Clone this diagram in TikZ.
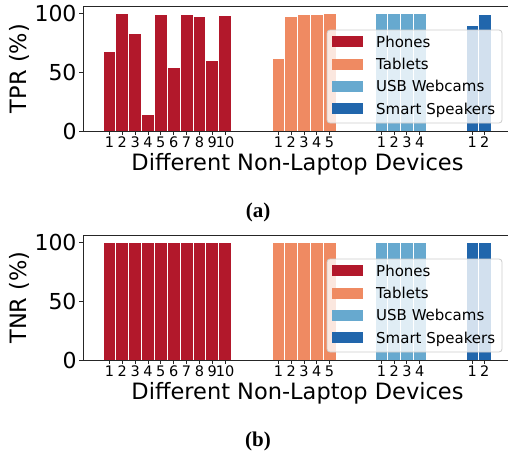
\documentclass[tikz,border=0pt]{standalone}
\usepackage{fontspec}
\setmainfont{DejaVu Sans}
\newfontfamily\capfont{Liberation Serif}
\definecolor{phone}{HTML}{B2182B}
\definecolor{tablet}{HTML}{EF8A62}
\definecolor{webcam}{HTML}{67A9CF}
\definecolor{speaker}{HTML}{2166AC}
\definecolor{axisgray}{HTML}{262626}

% one group of bars with its ticks and tick labels
% #1 left edge, #2 bar step, #3 colour, #4 values, #5 vertical offset of the panel
\newcommand\bargroup[5]{%
  \foreach \v [count=\i, evaluate=\i as \k using \i-1] in {#4} {
    \filldraw[bar, fill=#3] ({#1+#2*\k},{131+#5}) rectangle ({#1+#2*\i},{131+#5-1.177*\v});
    \draw[tickmark] ({#1+#2*(\k+0.5)},{131+#5}) -- ++(0,4);
    \node[xtick, name=xt-#3-\i-#5] at ({#1+#2*(\k+0.5)},{147+#5}) {\i};
  }}

% one complete panel: #1 offset, #2 y label, #3 caption letter,
% #4 phones, #5 tablets, #6 webcams, #7 speakers
\newcommand\panel[7]{%
  \bargroup{103}{12.85}{phone}{#4}{#1}
  \bargroup{272}{12.8}{tablet}{#5}{#1}
  \bargroup{375}{12.75}{webcam}{#6}{#1}
  \bargroup{466}{12.5}{speaker}{#7}{#1}
  % spines
  \draw[spine] (510,{6+#1}) -- (83,{6+#1}) -- (83,{131+#1}) -- (510,{131+#1});
  % y ticks
  \foreach \t in {0,50,100} {
    \draw[tickmark] (83,{131+#1-1.177*\t}) -- (79,{131+#1-1.177*\t});
    \node[ytick, name=yt-\t-#1] at (76.7,{131+#1-1.177*\t+8.2}) {\t};
  }
  \node[axlabel, rotate=90, name=yl-#1] at (19,{68.5+#1}) {#2 (\%)};
  \node[axlabel, anchor=base, name=xl-#1] at (297.5,{170+#1}) {Different Non-Laptop Devices};
  % legend
  \filldraw[legframe] (327,{30+#1}) rectangle (502,{123+#1});
  \foreach \c/\txt [count=\r from 0] in {phone/Phones, tablet/Tablets, webcam/USB Webcams, speaker/Smart Speakers} {
    \fill[\c] (332,{36.2+22.4*\r+#1}) rectangle (363,{47.2+22.4*\r+#1});
    \node[legtext, name=lg-\c-#1] at (376,{47+22.4*\r+#1}) {\txt};
  }
  \node[captxt, name=cap-#3] at (258,{212+#1}) {(#3)};
}

\begin{document}
\begin{tikzpicture}[x=1pt, y=-1pt,
  bar/.style={draw=white, line width=0.8pt},
  spine/.style={draw=axisgray, line width=0.8pt},
  tickmark/.style={draw=axisgray, line width=0.8pt},
  xtick/.style={font=\fontsize{14.5}{14.5}\selectfont, anchor=base, inner sep=0pt},
  ytick/.style={font=\fontsize{22}{22}\selectfont, anchor=base east, inner sep=0pt},
  axlabel/.style={font=\fontsize{22.5}{22.5}\selectfont, inner sep=0pt},
  legframe/.style={fill=white, fill opacity=0.8, draw=black!20, line width=0.8pt, rounded corners=3pt},
  legtext/.style={font=\fontsize{15}{15}\selectfont, anchor=base west, inner sep=0pt},
  captxt/.style={font=\capfont\bfseries\fontsize{21}{21}\selectfont, inner sep=0pt}]
\useasboundingbox (0,0) rectangle (508,456);
\clip (0,0) rectangle (508,456);

\panel{0}{TPR}{a}{68,100,83,14,99,54,99,97,60,98}{62,97,99,99,100}{100,100,100,100}{90,99}
\panel{229}{TNR}{b}{100,100,100,100,100,100,100,100,100,100}{100,100,100,100,100}{100,100,100,100}{100,100}
\end{tikzpicture}
\end{document}
